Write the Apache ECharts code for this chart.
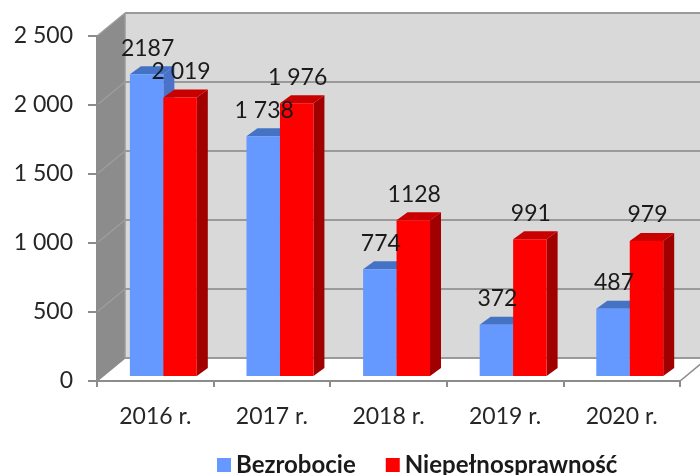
<!DOCTYPE html>
<html>
<head>
<meta charset="utf-8">
<script src="https://cdn.jsdelivr.net/npm/echarts@6/dist/echarts.min.js"></script>
<style>html,body{margin:0;padding:0;background:#fff}#c{width:700px;height:475px}</style>
</head>
<body>
<div id="c"></div>
<script>
const categories = ['2016 r.', '2017 r.', '2018 r.', '2019 r.', '2020 r.'];
const bezrobocie = [2187, 1738, 774, 372, 487];
const niepelnosprawnosc = [2019, 1976, 1128, 991, 979];
const bezrobocieLabels = ['2187', '1 738', '774', '372', '487'];
const niepelnosprawnoscLabels = ['2 019', '1 976', '1128', '991', '979'];
const yTicks = [0, 500, 1000, 1500, 2000, 2500];

const FONT = 'Lato';
const WALL_DX = 28, WALL_DY = -23;

function renderWalls(params, api) {
  const cs = params.coordSys;
  const L = cs.x, T = cs.y, R = cs.x + cs.width, B = cs.y + cs.height;
  const dx = WALL_DX, dy = WALL_DY;
  const ch = [];
  ch.push({type: 'polygon', shape: {points: [[L + dx, T + dy], [R + dx, T + dy], [R + dx, B + dy], [L + dx, B + dy]]}, style: {fill: '#d9d9d9'}});
  ch.push({type: 'polygon', shape: {points: [[L, B], [L + dx, B + dy], [R + dx, B + dy], [R, B]]}, style: {fill: '#ffffff', stroke: '#8c8c8c', lineWidth: 1.5}});
  ch.push({type: 'polygon', shape: {points: [[L, T], [L + dx, T + dy], [L + dx, B + dy], [L, B]]}, style: {fill: '#8c8c8c'}});
  yTicks.forEach(function (v) {
    const y = api.coord([0, v])[1];
    ch.push({type: 'line', shape: {x1: L + dx, y1: y + dy, x2: R + dx, y2: y + dy}, style: {stroke: '#9a9a9a', lineWidth: 2}});
    if (v > 0) {
      ch.push({type: 'line', shape: {x1: L, y1: y, x2: L + dx, y2: y + dy}, style: {stroke: '#9e9e9e', lineWidth: 1.2}});
    }
  });
  ch.push({type: 'line', shape: {x1: L + dx, y1: T + dy, x2: L + dx, y2: B + dy}, style: {stroke: '#9a9a9a', lineWidth: 1.5}});
  return {type: 'group', children: ch, silent: true};
}

function barGeom(sIdx, params, api) {
  const cat = api.value(0), val = api.value(1);
  const base = api.coord([cat, 0]);
  const top = api.coord([cat, val]);
  const band = api.size([1, 0])[0];
  const bw = band * 0.287;
  const shiftX = band * 0.069, shiftY = -5;
  const x0 = base[0] - bw + sIdx * bw + shiftX;
  return {x0: x0, x1: x0 + bw, bw: bw, yb: base[1] + shiftY, yt: top[1] + shiftY};
}

function makeBarRender(sIdx, front, topC, side) {
  return function (params, api) {
    const g = barGeom(sIdx, params, api);
    const dx = 11, dy = -8;
    return {
      type: 'group',
      children: [
        {type: 'polygon', shape: {points: [[g.x1, g.yb], [g.x1 + dx, g.yb + dy], [g.x1 + dx, g.yt + dy], [g.x1, g.yt]]}, style: {fill: side}},
        {type: 'polygon', shape: {points: [[g.x0, g.yt], [g.x1, g.yt], [g.x1 + dx, g.yt + dy], [g.x0 + dx, g.yt + dy]]}, style: {fill: topC}},
        {type: 'rect', shape: {x: g.x0, y: g.yt, width: g.bw, height: g.yb - g.yt}, style: {fill: front}}
      ]
    };
  };
}

function makeLabelRender(sIdx, labels) {
  return function (params, api) {
    const g = barGeom(sIdx, params, api);
    return {type: 'text', x: (g.x0 + g.x1) / 2 + 1, y: g.yt - 26,
      style: {text: labels[params.dataIndex], fill: '#1a1a1a', font: '23px ' + FONT, align: 'center', verticalAlign: 'middle'}};
  };
}

const chart = echarts.init(document.getElementById('c'), null, {renderer: 'canvas'});
chart.setOption({
  animation: false,
  backgroundColor: '#ffffff',
  grid: {left: 97, right: 20, top: 36, bottom: 94},
  legend: {
    data: ['Bezrobocie', 'Niepełnosprawność'],
    left: 212, top: 448,
    itemWidth: 14, itemHeight: 14, itemGap: 30, icon: 'rect',
    textStyle: {fontFamily: FONT, fontSize: 24, fontWeight: 'bold', color: '#1a1a1a'}
  },
  xAxis: {
    type: 'category', data: categories,
    axisLine: {lineStyle: {color: '#8c8c8c', width: 2}},
    axisTick: {show: true, length: 6, lineStyle: {color: '#8c8c8c', width: 2}},
    axisLabel: {fontFamily: FONT, fontSize: 23, color: '#262626', margin: 24},
    z: 5
  },
  yAxis: {
    type: 'value', min: 0, max: 2500, interval: 500,
    splitLine: {show: false},
    axisLine: {show: true, lineStyle: {color: '#8c8c8c', width: 2}},
    axisTick: {show: true, length: 9, lineStyle: {color: '#8c8c8c', width: 2}},
    axisLabel: {fontFamily: FONT, fontSize: 23, color: '#262626', margin: 24,
      formatter: function (v) { return String(v).replace(/\B(?=(\d{3})+(?!\d))/g, ' '); }}
  },
  series: [
    {type: 'custom', name: 'walls', renderItem: renderWalls, data: [[0, 0]], z: 0, silent: true, itemStyle: {color: '#d9d9d9'}},
    {type: 'custom', name: 'Bezrobocie', renderItem: makeBarRender(0, '#6699ff', '#4472c4', '#4a72c8'),
      data: bezrobocie.map(function (v, i) { return [i, v]; }), z: 2, silent: true, itemStyle: {color: '#6699ff'}},
    {type: 'custom', name: 'Niepełnosprawność', renderItem: makeBarRender(1, '#ff0000', '#c80000', '#a00000'),
      data: niepelnosprawnosc.map(function (v, i) { return [i, v]; }), z: 3, silent: true, itemStyle: {color: '#ff0000'}},
    {type: 'custom', name: 'lblB', renderItem: makeLabelRender(0, bezrobocieLabels),
      data: bezrobocie.map(function (v, i) { return [i, v]; }), z: 10, silent: true},
    {type: 'custom', name: 'lblN', renderItem: makeLabelRender(1, niepelnosprawnoscLabels),
      data: niepelnosprawnosc.map(function (v, i) { return [i, v]; }), z: 10, silent: true}
  ]
});
</script>
</body>
</html>
